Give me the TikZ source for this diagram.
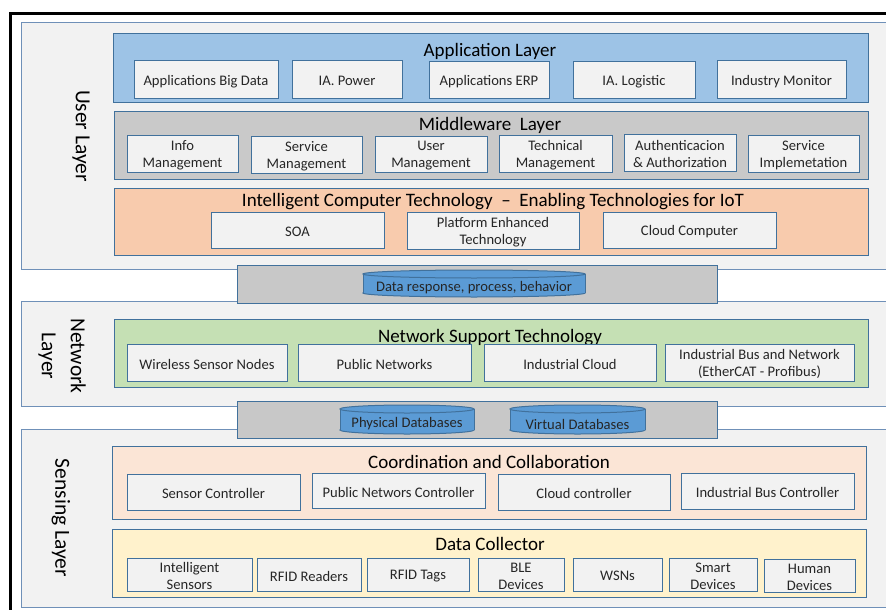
\documentclass[tikz,border=0pt]{standalone}
\usepackage{fontspec}
\setmainfont{Carlito}
\definecolor{bord}{HTML}{41719C}
\definecolor{lbord}{HTML}{6F90B8}
\definecolor{layfill}{HTML}{F2F2F2}
\definecolor{itemfill}{HTML}{F2F2F2}
\definecolor{appfill}{HTML}{9DC3E6}
\definecolor{midfill}{HTML}{C9C9C9}
\definecolor{intfill}{HTML}{F8CBAD}
\definecolor{netfill}{HTML}{C5E0B4}
\definecolor{coofill}{HTML}{FBE5D6}
\definecolor{colfill}{HTML}{FFF2CC}
\definecolor{barfill}{HTML}{C8C8C8}
\definecolor{cylfill}{HTML}{5B9BD5}
\definecolor{txt}{HTML}{262626}
% box node, with its text as a separate node slightly lowered
\newcommand\bx[7]{\node[#6, minimum width={#4-#2}, minimum height={#5-#3}] (#1) at ({(#2+#4)/2},{(#3+#5)/2}) {};
  \node[itemtext] (#1-text) at ([yshift=-1.8pt]#1.center) {#7};}
\newcommand\dbcyl[6]{%
  \filldraw[cylshape] ({(#2+#4)/2},#5-4) ellipse [x radius={(#4-#2)/2}, y radius=4];
  \fill[cylfill] (#2,#3+4) rectangle (#4,#5-4);
  \draw[bord, line width=1pt] (#2,#3+4) -- (#2,#5-4) (#4,#3+4) -- (#4,#5-4);
  \filldraw[cylshape] ({(#2+#4)/2},#3+4) ellipse [x radius={(#4-#2)/2}, y radius=4];
  \node[itemtext] (#1) at ({(#2+#4)/2},{(#3+#5)/2+4.5}) {#6};}
\tikzset{
  itemtext/.style={text=txt, font=\fontsize{14.6}{17}\selectfont, align=center, inner sep=0pt},
  layerbox/.style={draw=lbord, fill=layfill, line width=1pt, inner sep=0pt},
  groupbox/.style={draw=bord, line width=1pt, inner sep=0pt},
  itembox/.style={draw=bord, fill=itemfill, line width=1pt, inner sep=0pt},
  title/.style={text=black, font=\fontsize{19}{21}\selectfont, inner sep=0pt},
  laylabel/.style={text=black, font=\fontsize{21.5}{29}\selectfont, rotate=-90, align=center, inner sep=0pt},
  cylshape/.style={draw=bord, fill=cylfill, line width=1pt},
}
\begin{document}
\begin{tikzpicture}[x=1pt, y=-1pt]
\useasboundingbox (0,0) rectangle (886,610);
\fill[white] (0,0) rectangle (886,610);
% outer frame
\draw[black, line width=3pt] (10.5,620) -- (10.5,13.5) -- (900,13.5);
% layer boxes
\node[layerbox, minimum width=879, minimum height=246] (userlayer) at (460.5,146) {};
\node[layerbox, minimum width=879, minimum height=105] (netlayer) at (460.5,353.5) {};
\node[layerbox, minimum width=879, minimum height=178] (senslayer) at (460.5,518) {};
% layer labels
\node[laylabel] (ul) at (81,136) {User Layer};
\node[laylabel] (nl) at (62,356) {Network\\Layer};
\node[laylabel] (sl) at (61,518) {Sensing Layer};
% Application layer
\node[groupbox, fill=appfill, minimum width=755, minimum height=68] (app) at (490.5,68) {};
\node[title] (appt) at (490,51.5) {Application Layer};
\bx{a1}{134}{61}{278}{98}{itembox}{Applications Big Data}
\bx{a2}{292}{61}{402}{98}{itembox}{IA. Power}
\bx{a3}{429}{62}{549}{98}{itembox}{Applications ERP}
\bx{a4}{573}{62}{695}{98}{itembox}{IA. Logistic}
\bx{a5}{717}{61}{846}{98}{itembox}{Industry Monitor}
% Middleware layer
\node[groupbox, fill=midfill, minimum width=754, minimum height=68] (mid) at (491,145) {};
\node[title] (midt) at (490,125.5) {Middleware\ \ Layer};
\bx{m1}{127}{135}{238}{172}{itembox}{Info\\Management}
\bx{m2}{251}{136}{362}{173}{itembox}{Service\\Management}
\bx{m3}{375}{136}{487}{172}{itembox}{User\\Management}
\bx{m4}{499}{135}{612}{172}{itembox}{Technical\\Management}
\bx{m5}{624}{134}{736}{171}{itembox}{Authenticacion\\\& Authorization}
\bx{m6}{748}{135}{859}{172}{itembox}{Service\\Implemetation}
% Intelligent computer technology
\node[groupbox, fill=intfill, minimum width=754, minimum height=67] (int) at (491,221.5) {};
\node[title] (intt) at (493,201.5) {Intelligent Computer Technology\ \ –\ \ Enabling Technologies\ for IoT};
\bx{i1}{211}{212}{384}{248}{itembox}{SOA}
\bx{i2}{407}{212}{579}{249}{itembox}{Platform Enhanced\\Technology}
\bx{i3}{603}{212}{776}{248}{itembox}{Cloud Computer}
% bar 1
\node[groupbox, fill=barfill, minimum width=480, minimum height=38] (bar1) at (477,284) {};
\dbcyl{dr}{363}{270}{585}{297}{Data response, process, behavior}
% Network support technology
\node[groupbox, fill=netfill, minimum width=754, minimum height=68] (net) at (491,353) {};
\node[title] (nett) at (490,337.5) {Network Support Technology};
\bx{n1}{127}{344}{287}{381}{itembox}{Wireless Sensor Nodes}
\bx{n2}{298}{344}{471}{381}{itembox}{Public Networks}
\bx{n3}{484}{344}{656}{381}{itembox}{Industrial Cloud}
\bx{n4}{665}{344}{854}{381}{itembox}{Industrial Bus and Network\\(EtherCAT - Profibus)}
% bar 2
\node[groupbox, fill=barfill, minimum width=480, minimum height=37] (bar2) at (477,419.5) {};
\dbcyl{pdb}{340}{405}{474}{434}{Physical Databases}
\dbcyl{vdb}{510}{405}{645}{434}{Virtual Databases}
% Coordination and collaboration
\node[groupbox, fill=coofill, minimum width=754, minimum height=73] (coo) at (489,482.5) {};
\node[title] (coot) at (489,461.5) {Coordination\ and Collaboration};
\bx{c1}{127}{474}{300}{510}{itembox}{Sensor\ Controller}
\bx{c2}{312}{473}{485}{508}{itembox}{Public Networs Controller}
\bx{c3}{498}{474}{670}{510}{itembox}{Cloud controller}
\bx{c4}{681}{473}{854}{509}{itembox}{Industrial Bus Controller}
% Data collector
\node[groupbox, fill=colfill, minimum width=754, minimum height=68] (col) at (489,563) {};
\node[title] (colt) at (490,543.5) {Data Collector};
\bx{d1}{127}{558}{252}{591}{itembox}{Intelligent\\Sensors}
\bx{d2}{257}{558}{361}{591}{itembox}{RFID Readers}
\bx{d3}{367}{558}{469}{591}{itembox}{RFID Tags}
\bx{d4}{478}{558}{564}{591}{itembox}{BLE\\Devices}
\bx{d5}{573}{558}{662}{591}{itembox}{WSNs}
\bx{d6}{669}{558}{757}{591}{itembox}{Smart\\Devices}
\bx{d7}{764}{559}{855}{592}{itembox}{Human\\Devices}
\end{tikzpicture}
\end{document}
